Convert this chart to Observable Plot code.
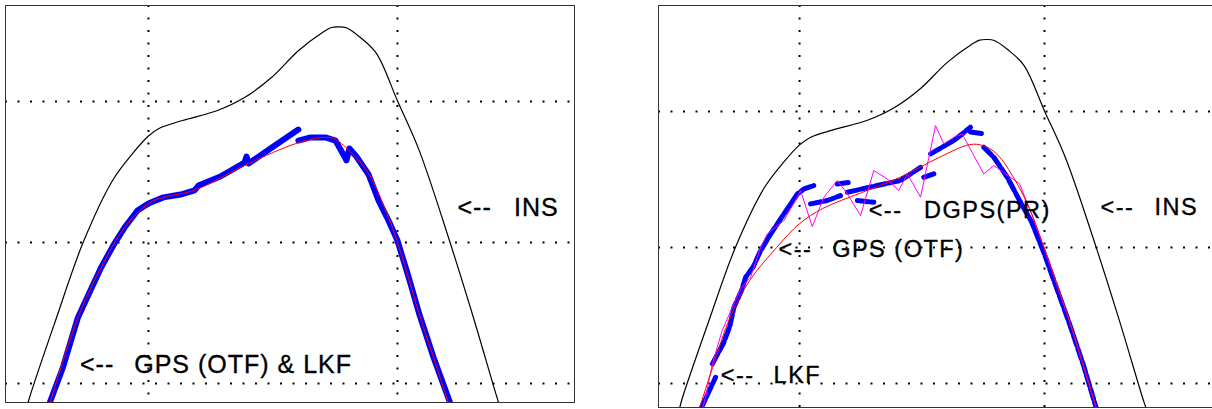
<!DOCTYPE html>
<html><head><meta charset="utf-8">
<script src="https://cdn.jsdelivr.net/npm/d3@7"></script>
<script src="https://cdn.jsdelivr.net/npm/@observablehq/plot@0.6"></script>
<style>
body{margin:0;background:#fff;}
#wrap{position:relative;width:1212px;height:409px;overflow:hidden;background:#fff;}
#wrap svg{position:absolute;top:0;max-width:none;}
</style></head><body><div id="wrap"></div>
<script>
// ---- INS trajectory (same in both panels) ----
const insX = [-49.2,-48.1,-37.3,-26,-14.4,-6.4,0,4.4,13.7,27.7,38.6,49.4,60.2,69.9,73.5,76.5,79.5,85.1,91.6,100,108.8,121,130.5,140.6,141.9];
const insY = [-20,-12.1,44.7,101,144,163,175.5,181,186.5,193.6,202.8,217,236,249,252.5,253,252.3,245.4,234,200.5,165,100.7,46.8,-13.5,-20];

// ---- Left panel: reference (red) and GPS (OTF) & LKF (blue) ----
const redLX = [-40.5,-39.5,-28.3,-19,-9.6,0,6,18.4,40.2,58.9,69.8,74.4,80.7,88.4,96.4,99.8,108.7,120.4,121.5];
const redLY = [-20,-13.5,46.8,82.3,110.6,127.7,132,137,156,170,174.5,173.7,165,149,117.7,101.4,49.6,-13.5,-20];
const blueLX = [-40.6,-39.6,-34.5,-28.3,-23.3,-19,-14.1,-9.6,-4.4,0,6,12.9,18.5,20.1,28.9,38.6,39.4,40.2,49,60.2,
                60.2,65.1,71.1,75.1,78.7,79.5,80.7,83.5,88.4,92.4,96.4,100,104.4,108.7,114.5,121.1,122.2];
const blueLY = [-20,-13.5,10.6,46.8,66,82.3,97.9,110.6,122.7,127.7,132,134,136.9,140.4,146.8,156.7,161,156,166.7,180.1,
                172.3,174.5,174.5,172.3,161,158.2,166.7,161,148.2,129.8,115.6,101.4,75.9,49.6,18.4,-13.5,-20];
const blueLSeg = [1,1,1,1,1,1,1,1,1,1,1,1,1,1,1,1,1,1,1,1,
                  2,2,2,2,2,2,2,2,2,2,2,2,2,2,2,2,2];

// ---- Right panel ----
const redRX = [-41.5,-40.9,-35.5,-28.4,-20.4,-9.4,0,9.4,25.3,40.8,56.7,69.4,74.9,80.4,88.2,94.7,99.8,110.2,121.2];
const redRY = [-22,-18.4,11.8,48.5,75.7,100,117.6,128.7,140.4,151.5,166,175.7,175,169,149,125,100,46,-18.4];
const blueRX = [-40.4,-34.3,
  -35.6,-31,-28.5,-26.8,-23.7,-22,-18.9,-15.9,-11.8,-6.4,-0.9,1.8,5.8,
  4.5,11.3,16.7,
  15.4,20.8,
  23.6,30.3,
  19.5,31.7,41.2,49.4,
  50.7,54.8,
  53.5,63,69.8,
  69.8,75.2,
  75.2,79.3,84.8,90,94.7,99.8,105,110.2,116,121.2];
const blueRY = [-19,4.6,
  14.5,30,42,56.1,68.4,78.2,86,97.8,110,124.7,139.4,143.1,145.6,
  132.1,134.6,138.2,
  146.8,148,
  134.6,133.3,
  140.7,145.6,149.3,159,
  151.7,154.2,
  168.9,178.7,188.5,
  185,183.6,
  173.8,166.4,151.7,134,119,96,70,44,13,-18.4];
const blueRSeg = [1,1, 2,2,2,2,2,2,2,2,2,2,2,2,2, 3,3,3, 4,4, 5,5, 6,6,6,6, 7,7, 8,8,8, 9,9,
  10,10,10,10,10,10,10,10,10,10];
const magRX = [-39.7,-38.4,-35.6,-31.6,-27,-23.7,-20,-15.9,-13.2,-6.4,-0.9,0.4,5.2,9.9,15.4,19.5,24.9,30.3,35.8,40.5,44,49.4,55.5,58.9,63,66.4,75.2,79.3,89.8,94.7,99.8,110.2,121.2];
const magRY = [-19,-10,14.5,39,58,70.6,78.2,100.2,110,119.9,137,141.9,115.4,137,149.3,139.5,123.5,156.6,150.5,141.9,154.2,137,189.7,176.3,181.1,183.6,154.1,160.3,147,125,100,46,-18.4];

// ---- Grid values ----
const gridX = [0, 100];
const gridY = [0, 100, 200];

// ---- Annotations ----
const leftArrowX = [124.1, -27.5];
const leftArrowY = [124.3, 13.3];
const leftLabels = ["INS", "GPS (OTF) & LKF"];
const leftLabelX = [146.8, -5.7];
const leftLabelY = [124.3, 13.3];

const rightArrowX = [122.9, 28.2, -8.6, -32.2];
const rightArrowY = [129.4, 127.0, 98.8, 5.7];
const rightLabels = ["INS", "DGPS(PR)", "GPS (OTF)", "LKF"];
const rightLabelX = [144.9, 50.8, 13.3, -10.6];
const rightLabelY = [129.4, 127.0, 98.8, 5.7];

const pts = (xs, ys, zs) => xs.map((x, i) => ({x, y: ys[i], z: zs ? zs[i] : 0}));
const labs = (xs, ys, ts) => xs.map((x, i) => ({x, y: ys[i], t: ts[i]}));

const ins = pts(insX, insY);
const gridMarks = [
  Plot.ruleX(gridX, {stroke: "#000", strokeWidth: 2, strokeDasharray: "2,10.5"}),
  Plot.ruleY(gridY, {stroke: "#000", strokeWidth: 2, strokeDasharray: "2,10.5"})
];

const font = "'Liberation Sans', Arial, Helvetica, sans-serif";
const txt = {x: "x", y: "y", text: "t", textAnchor: "start", fill: "#000", stroke: "#000", strokeWidth: 0.35};

function styleArrows(svg, spacing) {
  d3.select(svg).selectAll("g[aria-label=arrow] text").style("letter-spacing", spacing);
}

// Left panel
const xL = [-57.4, 171.1], yL = [-13.5, 268.1];
const left = Plot.plot({
  width: 580, height: 409,
  marginLeft: 5, marginRight: 6, marginTop: 5, marginBottom: 7,
  x: {domain: xL, axis: null},
  y: {domain: yL, axis: null},
  style: {fontFamily: font, background: "transparent", letterSpacing: "1px"},
  marks: [
    ...gridMarks,
    Plot.line(ins, {x: "x", y: "y", stroke: "#000", strokeWidth: 1.2, curve: "catmull-rom", clip: true}),
    Plot.line(pts(blueLX, blueLY, blueLSeg), {x: "x", y: "y", z: "z", stroke: "#0000ff", strokeWidth: 6, clip: true}),
    Plot.line(pts(redLX, redLY), {x: "x", y: "y", stroke: "#ff0000", strokeWidth: 1, curve: "catmull-rom", clip: true}),
    Plot.text(labs(leftArrowX, leftArrowY, leftArrowX.map(() => "<--")), {...txt, fontSize: 25, ariaLabel: "arrow"}),
    Plot.text(labs(leftLabelX, leftLabelY, leftLabels), {...txt, fontSize: 25}),
    Plot.frame({stroke: "#333", strokeWidth: 1})
  ]
});
styleArrows(left, "6px");
left.style.left = "0px";

// Right panel
const xR = [-57.6, 168.6], yR = [-17.6, 278];
const right = Plot.plot({
  width: 606, height: 409,
  marginLeft: 52, marginRight: 0, marginTop: 5, marginBottom: 2,
  x: {domain: xR, axis: null},
  y: {domain: yR, axis: null},
  style: {fontFamily: font, background: "transparent", letterSpacing: "1.5px"},
  marks: [
    ...gridMarks,
    Plot.line(ins, {x: "x", y: "y", stroke: "#000", strokeWidth: 1.2, curve: "catmull-rom", clip: true}),
    Plot.line(pts(blueRX, blueRY, blueRSeg), {x: "x", y: "y", z: "z", stroke: "#0000ff", strokeWidth: 5, strokeDasharray: "11,3", clip: true}),
    Plot.line(pts(magRX, magRY), {x: "x", y: "y", stroke: "#ff00ff", strokeWidth: 1, clip: true}),
    Plot.line(pts(redRX, redRY), {x: "x", y: "y", stroke: "#ff0000", strokeWidth: 1, curve: "catmull-rom", clip: true}),
    Plot.text(labs(rightArrowX, rightArrowY, rightArrowX.map(() => "<--")), {...txt, fontSize: 23.5, ariaLabel: "arrow"}),
    Plot.text(labs(rightLabelX, rightLabelY, rightLabels), {...txt, fontSize: 23.5}),
    Plot.ruleX([xR[0]], {stroke: "#333", strokeWidth: 1}),
    Plot.ruleY([yR[0], yR[1]], {stroke: "#333", strokeWidth: 1})
  ]
});
styleArrows(right, "6px");
right.style.left = "606px";

const wrap = document.getElementById("wrap");
wrap.appendChild(left);
wrap.appendChild(right);
</script>
</body></html>
